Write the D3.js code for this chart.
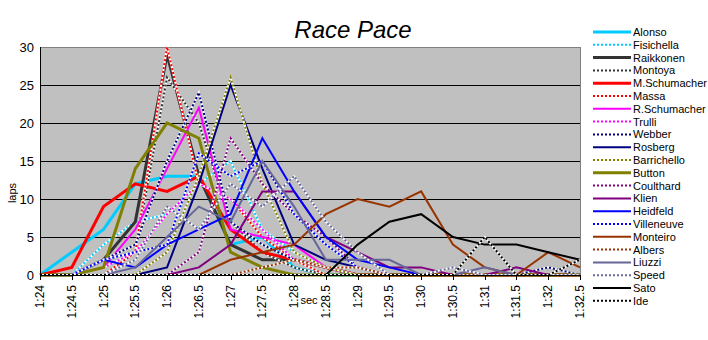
<!DOCTYPE html>
<html><head><meta charset="utf-8">
<script src="https://cdn.jsdelivr.net/npm/d3@7"></script>
<style>
html,body{margin:0;padding:0;background:#fff;}
svg{display:block;font-family:"Liberation Sans",Arial,sans-serif;}
</style></head>
<body><svg id="c" width="708" height="340"></svg>
<script>
const categories = ["1:24","1:24.5","1:25","1:25.5","1:26","1:26.5","1:27","1:27.5","1:28","1:28.5","1:29","1:29.5","1:30","1:30.5","1:31","1:31.5","1:32","1:32.5"];
const yTicks = [0,5,10,15,20,25,30];
const drivers = ["Alonso","Fisichella","Raikkonen","Montoya","M.Schumacher","Massa","R.Schumacher","Trulli","Webber","Rosberg","Barrichello","Button","Coulthard","Klien","Heidfeld","Villeneuve","Monteiro","Albers","Liuzzi","Speed","Sato","Ide"];

const alonso       = [0,3,6,12,13,13,4,5,1,0,0,0,0,0,0,0,0,0];
const fisichella   = [0,0,4,7,8,12,15,6,3,1,0,0,0,0,0,0,0,0];
const raikkonen    = [0,0,2,7,29,13,4,2,2,1,0,0,0,0,0,0,0,0];
const montoya      = [0,0,2,3,26,20,7,3,1,0,0,0,0,0,0,0,0,0];
const mschumacher  = [0,1,9,12,11,13,6,3,2,1,0,0,0,0,0,0,0,0];
const massa        = [0,0,0,3,30,12,10,5,2,0,0,0,0,0,0,0,0,0];
const rschumacher  = [0,0,1,6,14,22,6,5,4,1,0,0,0,0,0,0,0,0];
const trulli       = [0,0,1,3,8,12,10,6,2,1,0,0,0,0,0,0,0,0];
const webber       = [0,0,2,4,15,24,7,4,2,1,0,0,0,0,0,0,1,0];
const rosberg      = [0,0,0,0,1,12,25,14,4,2,1,0,0,0,0,0,0,0];
const barrichello  = [0,0,0,0,3,13,26,12,3,1,0,0,0,0,0,0,0,0];
const button       = [0,0,1,14,20,18,3,1,0,0,0,0,0,0,0,0,0,0];
const coulthard    = [0,0,0,0,0,3,18,12,8,5,1,0,0,0,0,0,0,0];
const klien        = [0,0,0,0,0,1,4,11,11,5,3,1,1,0,0,1,0,0];
const heidfeld     = [0,0,2,1,4,6,8,18,11,5,2,1,0,0,0,0,0,0];
const villeneuve   = [0,0,2,3,4,16,13,15,8,4,1,0,0,0,0,0,0,0];
const monteiro     = [0,0,0,0,0,0,2,3,4,8,10,9,11,4,1,0,3,1];
const albers       = [0,0,0,0,0,0,0,1,2,1,1,0,0,0,0,0,0,0];
const liuzzi       = [0,0,0,1,5,9,7,15,9,2,2,2,0,0,1,0,0,0];
const speed        = [0,0,0,2,9,6,12,9,13,7,3,0,0,1,0,0,0,0];
const sato         = [0,0,0,0,0,0,0,0,0,0,4,7,8,5,4,4,3,2];
const ide          = [0,0,0,0,0,0,0,0,0,0,0,0,0,0,5,0,0,2];

const values = [alonso,fisichella,raikkonen,montoya,mschumacher,massa,rschumacher,trulli,webber,rosberg,barrichello,button,coulthard,klien,heidfeld,villeneuve,monteiro,albers,liuzzi,speed,sato,ide];
const colors = ["#00CCFF","#00CCFF","#333333","#333333","#FF0000","#FF0000","#FF00FF","#FF00FF","#000080","#000080","#808000","#808000","#800080","#800080","#0000FF","#0000FF","#993300","#993300","#666699","#666699","#000000","#000000"];
const styles = ["thick","dot","thick","dot","thick","dot","solid","dot","dot","solid","dot","thick","dot","solid","solid","dot","solid","dot","solid","dot","solid","dot"];

const svg = d3.select("#c");
const L=40,R=580,T=47,B=275;
const x = d3.scalePoint().domain(categories).range([L,R]);
const y = d3.scaleLinear().domain([0,30]).range([B,T]);

svg.append("text").attr("x",353).attr("y",38).attr("text-anchor","middle")
  .style("font-size","24px").style("font-style","italic").text("Race Pace");

svg.append("rect").attr("x",L).attr("y",T).attr("width",R-L).attr("height",B-T).attr("fill","#C0C0C0");
const g = svg.append("g").attr("shape-rendering","crispEdges");
g.selectAll("line.grid").data(yTicks.filter(d=>d>0&&d<30)).enter().append("line")
  .attr("x1",L).attr("x2",R).attr("y1",d=>Math.round(y(d))+0.5).attr("y2",d=>Math.round(y(d))+0.5)
  .attr("stroke","#000").attr("stroke-width",1);
g.append("line").attr("x1",L).attr("x2",R).attr("y1",T+0.5).attr("y2",T+0.5).attr("stroke","#808080");
g.append("line").attr("x1",R+0.5).attr("x2",R+0.5).attr("y1",T).attr("y2",B).attr("stroke","#808080");

const line = d3.line().x((d,i)=>x(categories[i])).y(d=>y(d));
const series = drivers.map((n,i)=>({name:n,vals:values[i],color:colors[i],style:styles[i]}));
const lg = svg.append("g");
series.forEach(s=>{
  if(s.style==="dot"){
    lg.append("path").attr("d",line(s.vals)).attr("fill","none").attr("stroke","#fff").attr("stroke-width",2);
    lg.append("path").attr("d",line(s.vals)).attr("fill","none").attr("stroke",s.color).attr("stroke-width",2).attr("stroke-dasharray","2,2");
  } else {
    lg.append("path").attr("d",line(s.vals)).attr("fill","none").attr("stroke",s.color).attr("stroke-width",s.style==="thick"?3:2);
  }
});

const ax = svg.append("g").attr("shape-rendering","crispEdges");
ax.append("line").attr("x1",L+0.5).attr("x2",L+0.5).attr("y1",T).attr("y2",B).attr("stroke","#000");
ax.append("line").attr("x1",L).attr("x2",R+1).attr("y1",B+0.5).attr("y2",B+0.5).attr("stroke","#000");
ax.selectAll("line.xt").data(categories).enter().append("line")
  .attr("x1",d=>Math.round(x(d))+0.5).attr("x2",d=>Math.round(x(d))+0.5).attr("y1",B).attr("y2",B+5).attr("stroke","#000");
svg.selectAll("text.yl").data(yTicks).enter().append("text")
  .attr("x",34).attr("y",d=>y(d)+5).attr("text-anchor","end").style("font-size","13px").text(d=>d);
svg.selectAll("text.xl").data(categories).enter().append("text")
  .attr("transform",d=>`translate(${x(d)+4},285) rotate(-90)`).attr("text-anchor","end").style("font-size","12px").text(d=>d);
svg.append("text").attr("transform","translate(16,193) rotate(-90)").attr("text-anchor","middle").style("font-size","11px").text("laps");
svg.append("text").attr("x",309).attr("y",304).attr("text-anchor","middle").style("font-size","11px").text("sec");

const leg = svg.append("g");
series.forEach((s,i)=>{
  const yy = 32 + i*12.8;
  if(s.style==="dot"){
    leg.append("line").attr("x1",593).attr("x2",631).attr("y1",yy).attr("y2",yy).attr("stroke","#fff").attr("stroke-width",2);
    leg.append("line").attr("x1",593).attr("x2",631).attr("y1",yy).attr("y2",yy).attr("stroke",s.color).attr("stroke-width",2).attr("stroke-dasharray","2,2");
  } else {
    leg.append("line").attr("x1",593).attr("x2",631).attr("y1",yy).attr("y2",yy).attr("stroke",s.color).attr("stroke-width",s.style==="thick"?3:2);
  }
  leg.append("text").attr("x",633).attr("y",yy+4).style("font-size","11px").text(s.name);
});
</script></body></html>
